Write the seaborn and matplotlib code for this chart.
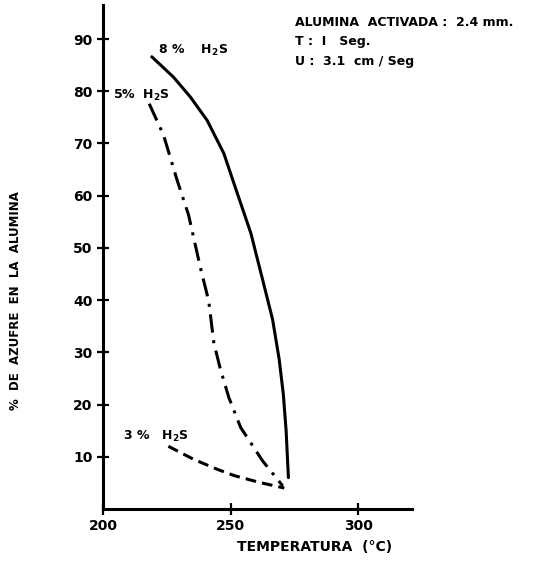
import matplotlib
matplotlib.use("Agg")
import matplotlib.pyplot as plt
import seaborn as sns
import pandas as pd

# ---- data ----
t_8 = [219.1, 227.6, 234.2, 240.8, 247.3, 251.3, 257.9, 262.5, 266.4, 269.0, 270.6, 271.7, 272.6]
s_8 = [86.6, 82.7, 78.9, 74.4, 68.1, 62.3, 52.8, 43.9, 36.3, 28.6, 22.0, 15.0, 6.0]

t_5 = [218.1, 223.7, 229.0, 233.5, 238.1, 241.4, 243.4, 246.0, 249.3, 253.9, 262.5, 270.4]
s_5 = [77.6, 71.6, 63.0, 56.3, 46.3, 39.8, 31.8, 26.7, 21.3, 15.6, 9.2, 4.4]

t_3 = [225.6, 235.5, 244.7, 251.3, 261.1, 271.0]
s_3 = [12.0, 9.5, 7.6, 6.4, 5.1, 4.0]

x_ticks = [200, 250, 300]
y_ticks = [10, 20, 30, 40, 50, 60, 70, 80, 90]

series_labels = ["8 %    H$_{\\bf 2}$S", "5%  H$_{\\bf 2}$S", "3 %   H$_{\\bf 2}$S"]
note_lines = ["ALUMINA  ACTIVADA :  2.4 mm.", "T :  I   Seg.", "U :  3.1  cm / Seg"]
x_label = "TEMPERATURA  (°C)"
y_label = "%  DE  AZUFRE  EN  LA  ALUMINA"

sns.set_style("white")
plt.rcParams["font.family"] = ["DejaVu Sans"]
plt.rcParams["font.weight"] = "bold"
plt.rcParams["mathtext.default"] = "bf"
plt.rcParams["text.color"] = "black"

fig = plt.figure(figsize=(5.45, 5.63), dpi=100)
ax = fig.add_axes([0.189, 0.096, 0.567, 0.895])

df8 = pd.DataFrame({"T": t_8, "S": s_8})
df5 = pd.DataFrame({"T": t_5, "S": s_5})
df3 = pd.DataFrame({"T": t_3, "S": s_3})

sns.lineplot(data=df8, x="T", y="S", sort=False, ax=ax, color="black",
             linewidth=2.2, linestyle="-", estimator=None)
sns.lineplot(data=df5, x="T", y="S", sort=False, ax=ax, color="black",
             linewidth=2.2, linestyle=(0, (6, 2.5, 1, 2.5)), estimator=None)
sns.lineplot(data=df3, x="T", y="S", sort=False, ax=ax, color="black",
             linewidth=2.2, linestyle=(0, (3.5, 2)), estimator=None)

ax.set_xlim(200, 321)
ax.set_ylim(0, 96.5)
ax.set_xticks(x_ticks)
ax.set_xticklabels([str(v) for v in x_ticks])
ax.set_yticks(y_ticks)
ax.set_yticklabels([str(v) for v in y_ticks])
ax.tick_params(axis="both", direction="inout", length=9, width=1.6,
               labelsize=10, colors="black", pad=3, left=True, bottom=True)
for lbl in ax.get_xticklabels() + ax.get_yticklabels():
    lbl.set_fontweight("bold")

for side in ["top", "right"]:
    ax.spines[side].set_visible(False)
for side in ["left", "bottom"]:
    ax.spines[side].set_linewidth(2.2)
    ax.spines[side].set_color("black")

ax.set_xlabel(x_label, fontsize=10, fontweight="bold", color="black")
ax.xaxis.set_label_coords(0.685, -0.062)
ax.set_ylabel(y_label, fontsize=8.5, fontweight="bold", color="black")
ax.yaxis.set_label_coords(-0.262, 0.414)

ax.text(221.7, 87.8, series_labels[0], fontsize=9, fontweight="bold",
        va="center", ha="left")
ax.text(204.0, 79.2, series_labels[1], fontsize=9, fontweight="bold",
        va="center", ha="left")
ax.text(208.0, 13.9, series_labels[2], fontsize=9, fontweight="bold",
        va="center", ha="left")

for i, line in enumerate(note_lines):
    fig.text(0.541, 1 - (23 + 19 * i) / 563, line, fontsize=9, fontweight="bold",
             va="center", ha="left")

fig.savefig("out.png", dpi=100, facecolor="white")
